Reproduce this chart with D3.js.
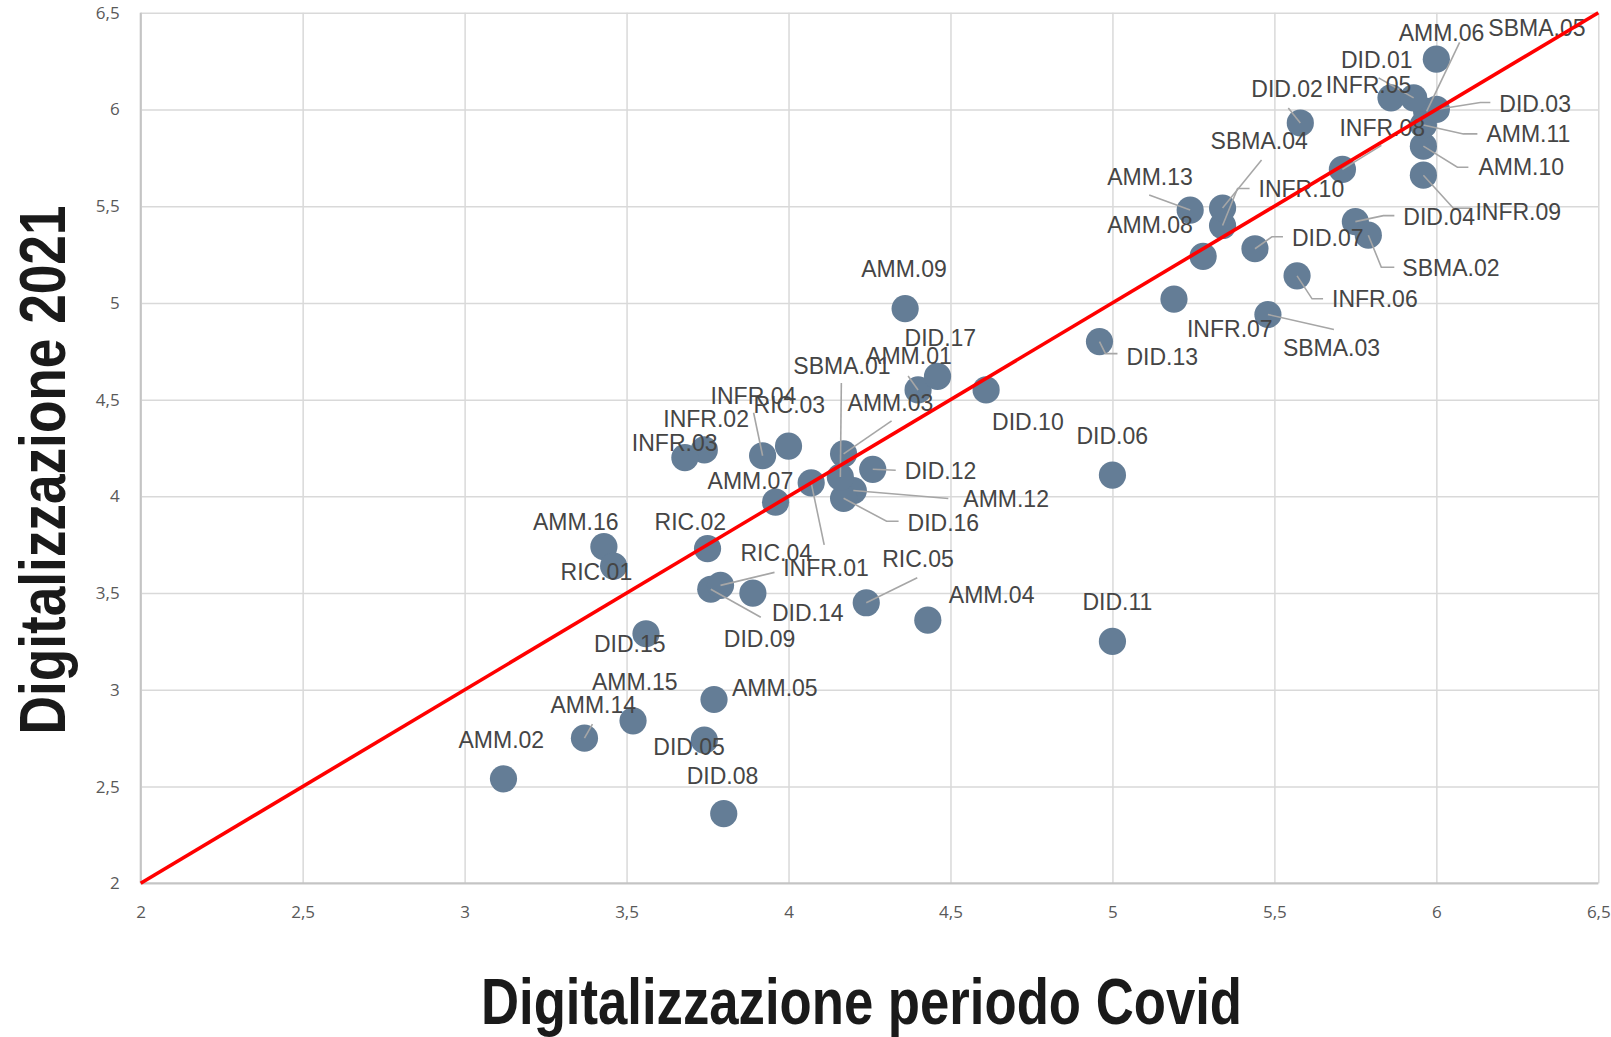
<!DOCTYPE html>
<html>
<head>
<meta charset="utf-8">
<script src="https://cdn.jsdelivr.net/npm/d3@7"></script>
<style>
    body { margin: 0; background: #fff; }
</style>
</head>
<body>
<div id="chart"></div>
<script>
// Data
var names = ["AMM.01", "AMM.02", "AMM.03", "AMM.04", "AMM.05", "AMM.06", "AMM.07", "AMM.08",
    "AMM.09", "AMM.10", "AMM.11", "AMM.12", "AMM.13", "AMM.14", "AMM.15", "AMM.16",
    "DID.01", "DID.02", "DID.03", "DID.04", "DID.05", "DID.06", "DID.07", "DID.08", "DID.09",
    "DID.10", "DID.11", "DID.12", "DID.13", "DID.14", "DID.15", "DID.16", "DID.17",
    "INFR.01", "INFR.02", "INFR.03", "INFR.04", "INFR.05", "INFR.06", "INFR.07", "INFR.08",
    "INFR.09", "INFR.10", "RIC.01", "RIC.02", "RIC.03", "RIC.04", "RIC.05",
    "SBMA.01", "SBMA.02", "SBMA.03", "SBMA.04", "SBMA.05"];

var covidValues = [4.40, 3.12, 4.17, 4.43, 3.77, 5.97, 3.96, 5.28,
    4.36, 5.96, 5.96, 4.20, 5.24, 3.37, 3.52, 3.43,
    5.86, 5.58, 6.00, 5.75, 3.74, 5.00, 5.44, 3.80, 3.76,
    4.61, 5.00, 4.26, 4.96, 3.89, 3.56, 4.17, 4.46,
    4.07, 3.74, 3.68, 3.92, 5.93, 5.57, 5.19, 5.71,
    5.96, 5.34, 3.46, 3.75, 4.00, 3.79, 4.24,
    4.16, 5.79, 5.48, 5.34, 6.00];

var values2021 = [4.55, 2.54, 4.22, 3.36, 2.95, 5.99, 3.97, 5.24,
    4.97, 5.81, 5.92, 4.03, 5.48, 2.75, 2.84, 3.74,
    6.06, 5.93, 6.00, 5.42, 2.74, 4.11, 5.28, 2.36, 3.52,
    4.55, 3.25, 4.14, 4.80, 3.50, 3.29, 3.99, 4.62,
    4.07, 4.24, 4.20, 4.21, 6.06, 5.14, 5.02, 5.69,
    5.66, 5.40, 3.64, 3.73, 4.26, 3.54, 3.45,
    4.10, 5.35, 4.94, 5.49, 6.26];

var tickValues = [2, 2.5, 3, 3.5, 4, 4.5, 5, 5.5, 6, 6.5];
var tickLabels = ["2", "2,5", "3", "3,5", "4", "4,5", "5", "5,5", "6", "6,5"];

// label placement: [dx, dy, leader points relative to the marker]
var labelLayout = {
    "AMM.06": [-28, -79, [[33, -69]]],
    "SBMA.05": [52, -31],
    "DID.01": [-50, -38],
    "INFR.05": [-88, -13, [[-35, -20]]],
    "DID.02": [-49, -34, [[-12, -15]]],
    "DID.03": [63, -6, [[54, -7], [44, -7]]],
    "AMM.11": [63, 9, [[54, 9], [40, 9]]],
    "AMM.10": [55, 21, [[45, 21], [34, 21]]],
    "INFR.09": [52, 37, [[47, 33], [30, 33]]],
    "INFR.08": [-3, -42, [[39, -24]]],
    "DID.04": [48, -5, [[39, -6], [28, -6]]],
    "SBMA.02": [34, 33, [[26, 32], [13, 32]]],
    "INFR.06": [35, 23, [[26, 23], [15, 23]]],
    "DID.07": [37, -11, [[28, -12], [17, -12]]],
    "INFR.10": [36, -37, [[27, -37], [15, -37]]],
    "SBMA.04": [-12, -67, [[39, -48]]],
    "AMM.13": [-83, -33, [[-41, -15]]],
    "AMM.08": [-96, -32],
    "INFR.07": [13, 30],
    "SBMA.03": [15, 33, [[66, 15]]],
    "DID.13": [27, 15, [[18, 12], [6, 12]]],
    "DID.06": [-36, -39],
    "DID.11": [-30, -40],
    "AMM.09": [-44, -40],
    "DID.10": [6, 32],
    "DID.17": [-33, -39],
    "AMM.01": [-52, -34, [[-10, -14]]],
    "SBMA.01": [-47, -111, [[1, -94]]],
    "AMM.03": [4, -51, [[48, -33]]],
    "DID.12": [32, 1, [[23, 1]]],
    "INFR.01": [-28, 85, [[13, 62]]],
    "AMM.12": [110, 8, [[95, 8]]],
    "DID.16": [64, 24, [[55, 23], [43, 23]]],
    "AMM.07": [-68, -21],
    "RIC.03": [-35, -41],
    "INFR.04": [-52, -60, [[-9, -43]]],
    "INFR.02": [-41, -31],
    "INFR.03": [-53, -15],
    "RIC.02": [-53, -27],
    "AMM.16": [-71, -25],
    "RIC.01": [-53, 6],
    "RIC.04": [20, -33, [[54, -13]]],
    "DID.09": [13, 49, [[50, 28]]],
    "DID.14": [19, 20],
    "RIC.05": [16, -44, [[51, -25]]],
    "AMM.04": [21, -25],
    "DID.15": [-52, 10],
    "AMM.05": [18, -12],
    "AMM.15": [-41, -39],
    "AMM.14": [-34, -33, [[8, -14]]],
    "DID.05": [-51, 7],
    "AMM.02": [-45, -39],
    "DID.08": [-37, -38]
};

ScatterChart = function(_parentElement, _data) {
    this.parentElement = _parentElement;
    this.data = _data;

    this.initVis();
}

ScatterChart.prototype.initVis = function() {
    var vis = this;

    vis.width = 1611;
    vis.height = 1037;
    vis.left = 140.7;
    vis.right = 1598.3;
    vis.top = 12.7;
    vis.bottom = 883.3;

    vis.svg = d3.select("#" + vis.parentElement).append("svg")
        .attr("width", vis.width)
        .attr("height", vis.height);

    vis.x = d3.scaleLinear().domain([2, 6.5]).range([vis.left, vis.right]);
    vis.y = d3.scaleLinear().domain([2, 6.5]).range([vis.bottom, vis.top]);

    // gridlines + tick labels
    vis.xAxis = d3.axisBottom(vis.x)
        .tickValues(tickValues)
        .tickSize(-(vis.bottom - vis.top))
        .tickPadding(23)
        .tickFormat(function(d, i) { return tickLabels[i]; });

    vis.yAxis = d3.axisLeft(vis.y)
        .tickValues(tickValues)
        .tickSize(-(vis.right - vis.left))
        .tickPadding(21)
        .tickFormat(function(d, i) { return tickLabels[i]; });

    vis.svg.append("g")
        .attr("class", "x-axis")
        .attr("transform", "translate(0," + vis.bottom + ")")
        .call(vis.xAxis);

    vis.svg.append("g")
        .attr("class", "y-axis")
        .attr("transform", "translate(" + vis.left + ",0)")
        .call(vis.yAxis);

    vis.svg.selectAll(".domain").remove();
    vis.svg.selectAll(".tick line")
        .attr("stroke", "#d9d9d9")
        .attr("stroke-width", 1.5);
    vis.svg.selectAll(".tick text")
        .style("font-family", "'Open Sans', sans-serif")
        .style("font-size", "17px")
        .attr("fill", "#595959");

    // axis lines
    vis.svg.append("line")
        .attr("x1", vis.left).attr("x2", vis.right)
        .attr("y1", vis.bottom).attr("y2", vis.bottom)
        .attr("stroke", "#c4c4c4").attr("stroke-width", 2);
    vis.svg.append("line")
        .attr("x1", vis.left).attr("x2", vis.left)
        .attr("y1", vis.top).attr("y2", vis.bottom)
        .attr("stroke", "#c4c4c4").attr("stroke-width", 2);

    // axis titles (condensed bold, squeezed to the reference width)
    vis.svg.append("text")
        .attr("x", 861.5)
        .attr("y", 1024)
        .attr("text-anchor", "middle")
        .attr("textLength", 761)
        .attr("lengthAdjust", "spacingAndGlyphs")
        .style("font-family", "'Liberation Sans', Arial, sans-serif")
        .style("font-weight", "bold")
        .style("font-size", "64px")
        .attr("fill", "#1a1a1a")
        .text("Digitalizzazione periodo Covid");

    vis.svg.append("text")
        .attr("transform", "translate(65,470) rotate(-90)")
        .attr("text-anchor", "middle")
        .attr("textLength", 529)
        .attr("lengthAdjust", "spacingAndGlyphs")
        .style("font-family", "'Liberation Sans', Arial, sans-serif")
        .style("font-weight", "bold")
        .style("font-size", "64px")
        .attr("fill", "#1a1a1a")
        .text("Digitalizzazione 2021");

    vis.marks = vis.svg.append("g").attr("class", "marks");
    vis.leaders = vis.svg.append("g").attr("class", "leaders");
    vis.labels = vis.svg.append("g").attr("class", "labels");
    vis.refLine = vis.svg.append("line").attr("class", "ref-line");

    vis.wrangleData();
}

ScatterChart.prototype.wrangleData = function() {
    var vis = this;

    vis.displayData = vis.data.names.map(function(n, i) {
        var lay = labelLayout[n] || [10, -20];
        return {
            name: n,
            covid: vis.data.covid[i],
            y2021: vis.data.y2021[i],
            dx: lay[0],
            dy: lay[1],
            leader: lay[2] || null
        };
    });

    vis.updateVis();
}

ScatterChart.prototype.updateVis = function() {
    var vis = this;

    vis.marks.selectAll("circle")
        .data(vis.displayData)
        .enter().append("circle")
        .attr("cx", function(d) { return vis.x(d.covid); })
        .attr("cy", function(d) { return vis.y(d.y2021); })
        .attr("r", 13.6)
        .attr("fill", "#647d96");

    var line = d3.line();
    vis.leaders.selectAll("path")
        .data(vis.displayData.filter(function(d) { return d.leader; }))
        .enter().append("path")
        .attr("d", function(d) {
            var cx = vis.x(d.covid), cy = vis.y(d.y2021);
            var pts = d.leader.map(function(p) { return [cx + p[0], cy + p[1]]; });
            pts.push([cx, cy]);
            return line(pts);
        })
        .attr("fill", "none")
        .attr("stroke", "#a6a6a6")
        .attr("stroke-width", 1.6);

    vis.labels.selectAll("text")
        .data(vis.displayData)
        .enter().append("text")
        .attr("x", function(d) { return vis.x(d.covid) + d.dx; })
        .attr("y", function(d) { return vis.y(d.y2021) + d.dy; })
        .attr("dy", "0.36em")
        .style("font-family", "'Liberation Sans', Arial, sans-serif")
        .style("font-size", "23px")
        .attr("fill", "#454545")
        .text(function(d) { return d.name; });

    vis.refLine
        .attr("x1", vis.x(2)).attr("y1", vis.y(2))
        .attr("x2", vis.x(6.5)).attr("y2", vis.y(6.5))
        .attr("stroke", "#ff0000")
        .attr("stroke-width", 3.6);
}

var chart = new ScatterChart("chart", { names: names, covid: covidValues, y2021: values2021 });
</script>
</body>
</html>
